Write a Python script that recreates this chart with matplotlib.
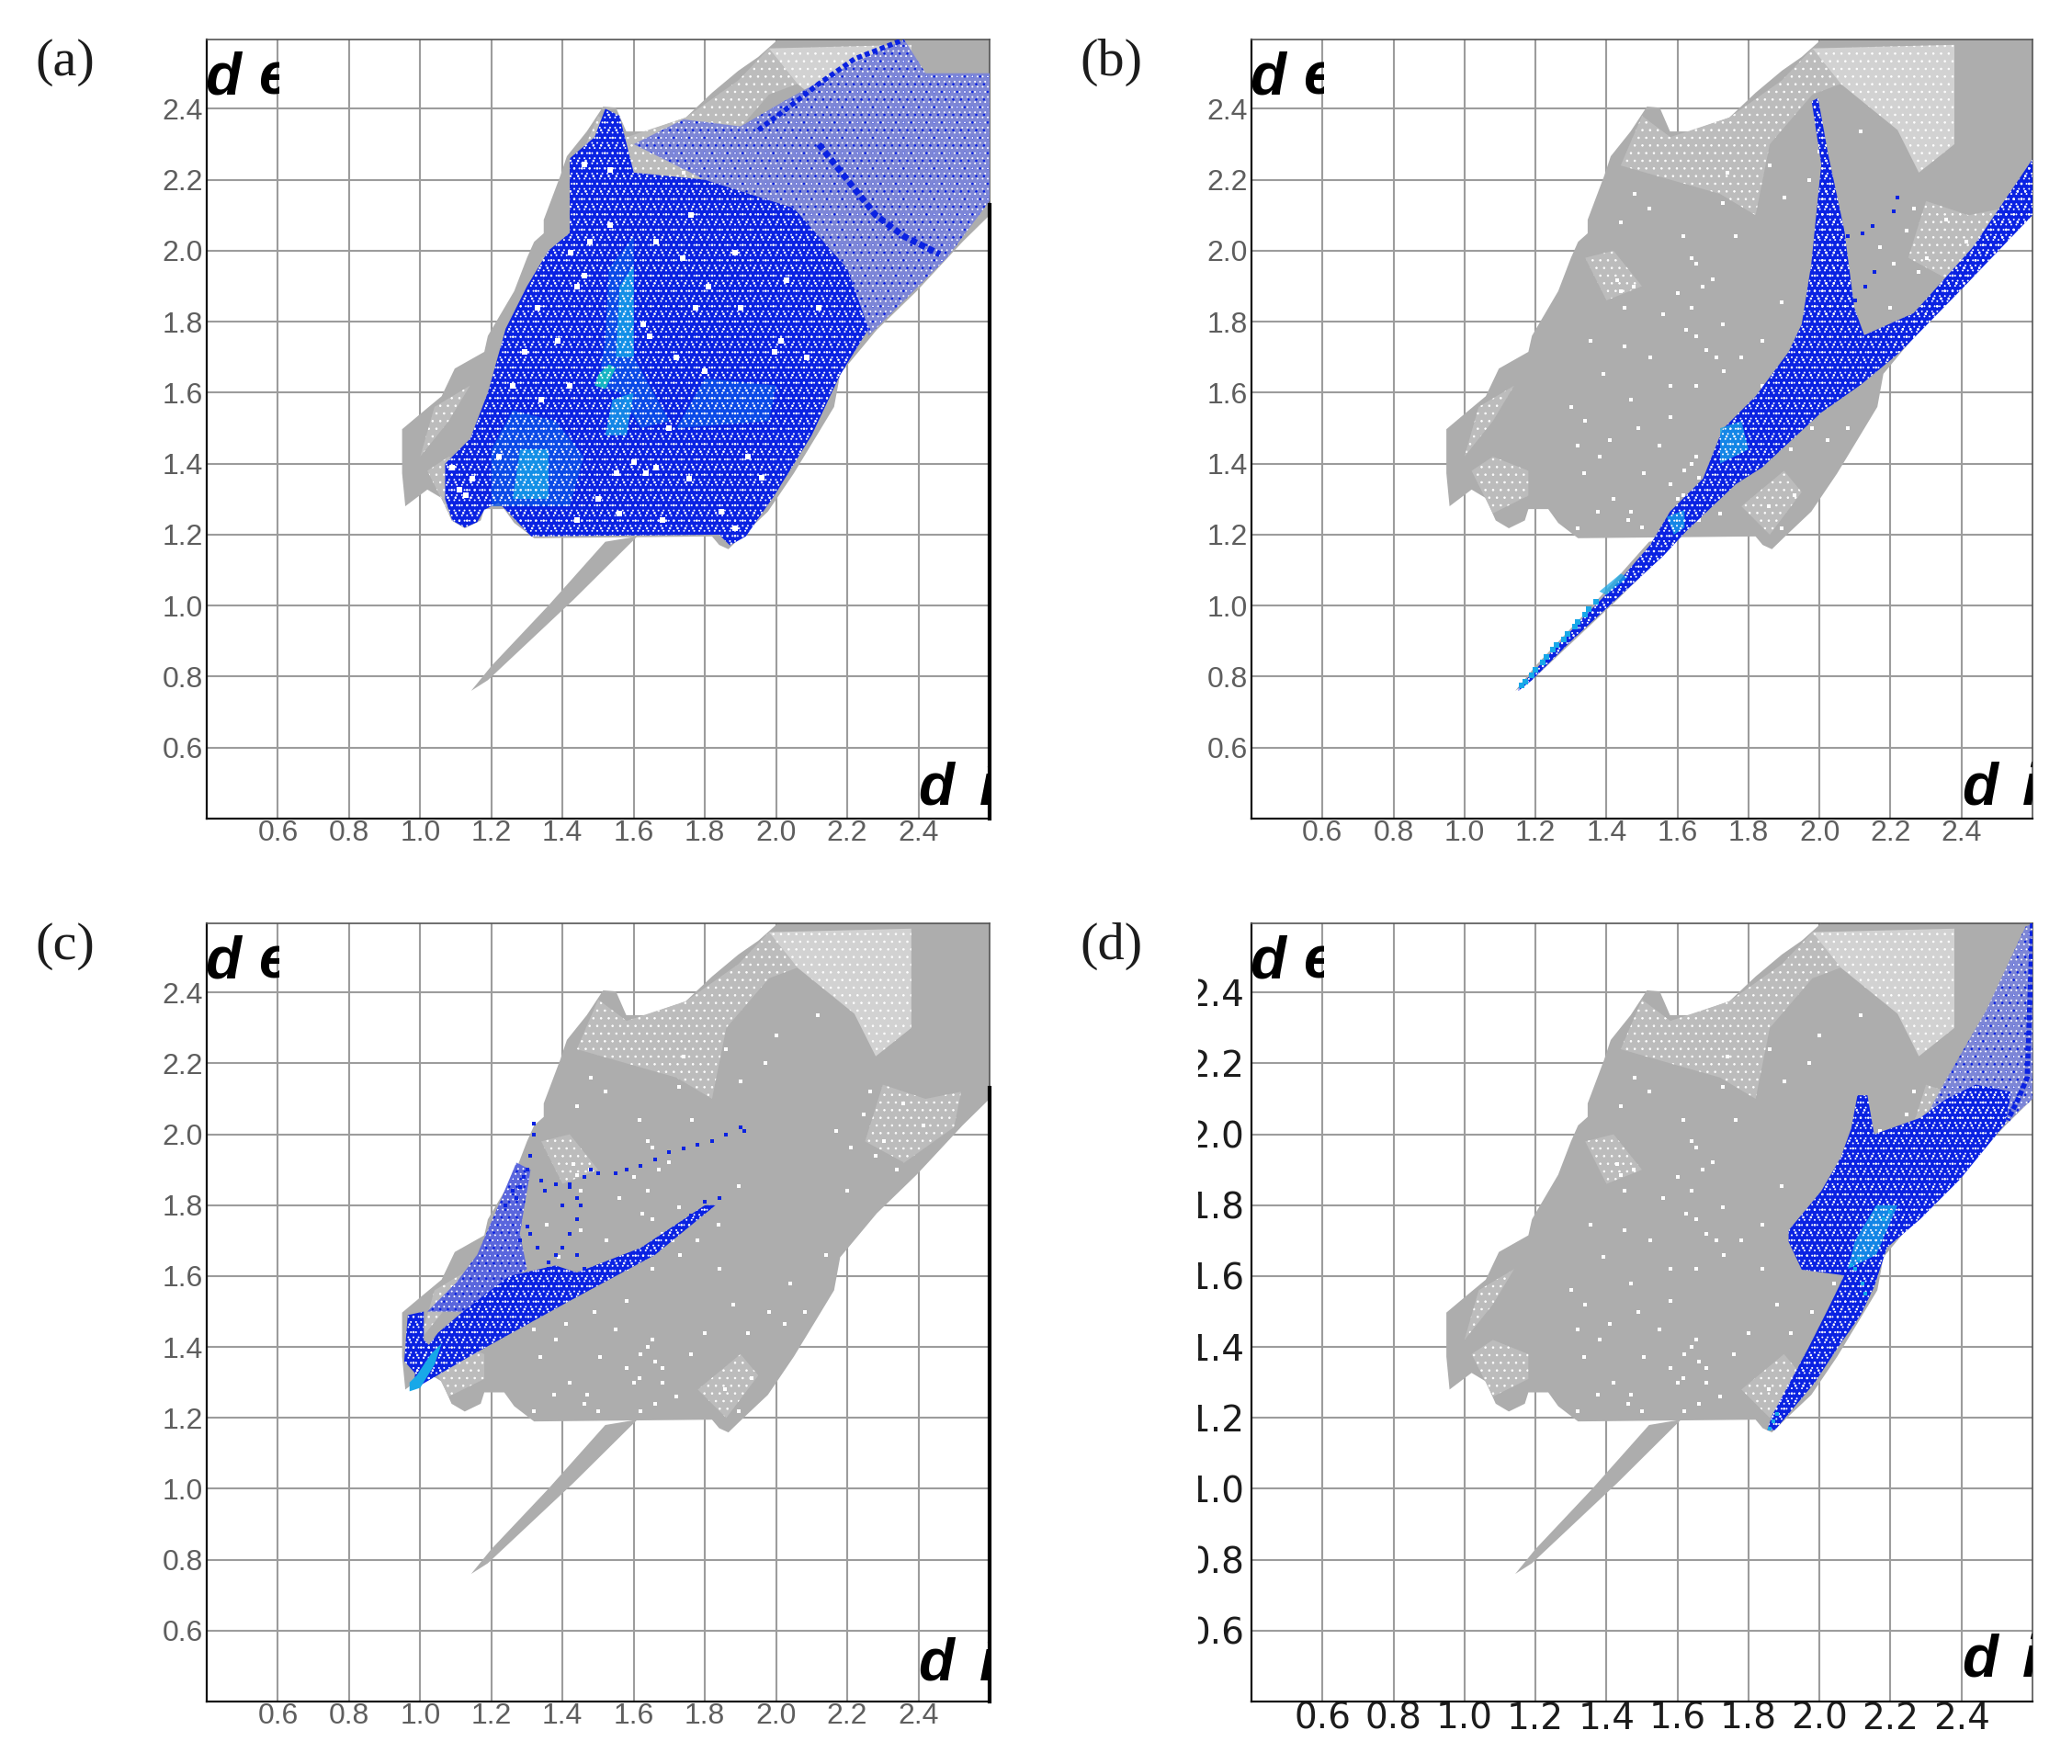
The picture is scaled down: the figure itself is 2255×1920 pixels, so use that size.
import matplotlib
matplotlib.use('Agg')
import matplotlib.pyplot as plt
from matplotlib.patches import Polygon, Rectangle
from matplotlib.transforms import Affine2D

plt.rcParams['hatch.linewidth'] = 0.6

TICKS = [0.6, 0.8, 1.0, 1.2, 1.4, 1.6, 1.8, 2.0, 2.2, 2.4]
TICK_LABELS = ['%.1f' % t for t in TICKS]

GRAY = '#adadad'
BLUE = '#0a22e2'
MID = '#0c58ea'
CYAN = '#18a8e8'
GREEN = '#1cd8b8'

# outline of the whole fingerprint (d_i, d_e)
gray_main = [(0.958, 1.28), (0.949, 1.373), (0.949, 1.497), (1.00, 1.54), (1.06, 1.59), (1.097, 1.668), (1.18, 1.715),
             (1.19, 1.76), (1.264, 1.886), (1.30, 1.98), (1.32, 2.025), (1.347, 2.049), (1.347, 2.087), (1.394, 2.212),
             (1.412, 2.266), (1.468, 2.336), (1.514, 2.406), (1.55, 2.403), (1.579, 2.336), (1.634, 2.336),
             (1.746, 2.375), (1.82, 2.445), (1.894, 2.507), (1.95, 2.546), (2.005, 2.595), (2.6, 2.595),
             (2.6, 2.10), (2.524, 2.025), (2.395, 1.886), (2.283, 1.777), (2.18, 1.653), (2.163, 1.56),
             (2.116, 1.482), (2.05, 1.373), (1.977, 1.265), (1.903, 1.195), (1.866, 1.159), (1.84, 1.171),
             (1.82, 1.195), (1.32, 1.19), (1.264, 1.233), (1.236, 1.272), (1.18, 1.272), (1.17, 1.24),
             (1.125, 1.218), (1.088, 1.24), (1.06, 1.303), (1.02, 1.327)]
gray_tail = [(1.143, 0.76), (1.2, 0.83), (1.36, 1.0), (1.52, 1.18), (1.61, 1.195), (1.43, 1.016), (1.19, 0.79)]

# thin (speckled) parts of the gray cloud
thin_regions = [
    [(1.746, 2.375), (1.894, 2.48), (1.98, 2.57), (2.06, 2.47), (1.98, 2.44), (1.86, 2.30), (1.82, 2.10), (1.72, 2.16),
     (1.58, 2.20), (1.44, 2.24), (1.50, 2.38), (1.58, 2.32)],
    [(1.08, 1.26), (1.18, 1.31), (1.18, 1.38), (1.08, 1.42), (1.02, 1.38)],
    [(1.00, 1.42), (1.08, 1.52), (1.14, 1.62), (1.04, 1.56)],
    [(1.86, 1.20), (1.95, 1.32), (1.90, 1.38), (1.78, 1.28)],
    [(2.30, 2.14), (2.42, 2.10), (2.52, 2.12), (2.50, 2.02), (2.36, 1.92), (2.25, 1.98)],
    [(1.50, 1.90), (1.42, 2.00), (1.34, 1.98), (1.40, 1.86)],
]
light_regions = [
    [(1.98, 2.57), (2.38, 2.58), (2.38, 2.30), (2.28, 2.22), (2.22, 2.34), (2.06, 2.47)],
]
white_x = [1.43, 1.44, 1.477, 1.45, 1.356, 1.45, 1.39, 1.523, 1.625, 1.653, 1.727, 1.838, 1.71, 1.653, 1.58, 1.58,
           1.32, 1.41, 1.505, 1.338, 1.653, 1.58, 1.468, 1.375, 1.32, 1.616, 1.894, 1.857, 1.93, 2.024, 2.08,
           1.653, 1.67, 1.764, 1.727, 1.616, 2.246, 2.302, 2.21, 2.17, 2.414, 2.47, 2.116, 2.265, 2.357, 1.894,
           1.64, 1.66, 1.62, 1.68, 1.47, 1.49, 1.55, 1.60, 1.68, 1.72, 1.76, 1.80, 1.62, 1.66, 1.50, 1.46, 1.42, 1.38,
           1.34, 1.30, 1.56, 1.60, 1.64, 1.68, 1.73, 1.78, 1.84, 1.88, 1.92, 1.98, 2.04, 2.10, 2.14, 2.20, 2.28, 2.34,
           1.52, 1.48, 1.44, 1.64, 1.70, 1.90, 1.97, 2.00, 1.86, 1.74]
white_y = [1.917, 1.886, 1.90, 1.84, 1.746, 1.73, 1.653, 1.70, 1.777, 1.76, 1.793, 1.746, 1.70, 1.62, 1.62, 1.53,
           1.45, 1.466, 1.373, 1.373, 1.42, 1.342, 1.265, 1.265, 1.218, 1.311, 1.218, 1.28, 1.311, 1.466, 1.5,
           1.963, 1.9, 2.04, 2.134, 2.04, 2.057, 1.98, 1.963, 2.01, 2.025, 1.948, 2.336, 2.12, 2.087, 1.855,
           1.40, 1.36, 1.38, 1.34, 1.58, 1.50, 1.45, 1.30, 1.30, 1.26, 1.38, 1.44, 1.22, 1.24, 1.22, 1.24, 1.30, 1.42,
           1.52, 1.56, 1.82, 1.88, 1.84, 1.72, 1.66, 1.70, 1.62, 1.52, 1.44, 1.50, 1.58, 1.42, 1.66, 1.84, 1.94, 1.90,
           2.12, 2.16, 2.08, 1.98, 1.92, 2.15, 2.20, 2.28, 2.24, 2.22]

# panel (a): dense body, sparser upper right
a_dense = [(1.312, 1.195), (1.25, 1.26), (1.22, 1.29), (1.18, 1.27), (1.16, 1.235), (1.125, 1.22), (1.09, 1.24),
           (1.07, 1.30), (1.07, 1.40), (1.14, 1.47), (1.19, 1.60), (1.24, 1.78), (1.30, 1.90), (1.36, 2.00),
           (1.42, 2.05), (1.42, 2.26), (1.49, 2.32), (1.52, 2.40), (1.56, 2.38), (1.60, 2.22), (1.80, 2.20),
           (2.05, 2.12), (2.20, 1.95), (2.26, 1.78), (2.18, 1.65), (2.10, 1.48), (1.995, 1.31), (1.915, 1.195),
           (1.87, 1.17), (1.84, 1.20)]
a_sparse = [(1.60, 2.30), (1.74, 2.37), (1.90, 2.35), (2.02, 2.42), (2.20, 2.52), (2.36, 2.595), (2.42, 2.50),
            (2.6, 2.50), (2.6, 2.14), (2.48, 1.98), (2.38, 1.88), (2.26, 1.76), (2.20, 1.95), (2.05, 2.12), (1.80, 2.20)]
a_mid = [[(1.50, 1.62), (1.56, 1.60), (1.62, 1.50), (1.70, 1.52), (1.60, 1.70), (1.60, 2.04), (1.53, 1.95), (1.52, 1.75)],
         [(1.20, 1.28), (1.42, 1.28), (1.46, 1.42), (1.38, 1.52), (1.26, 1.55), (1.20, 1.44)],
         [(1.72, 1.50), (1.98, 1.52), (2.00, 1.62), (1.80, 1.64)]]
a_cyan = [[(1.55, 1.70), (1.60, 1.70), (1.60, 1.96), (1.56, 1.90)],
          [(1.26, 1.30), (1.36, 1.30), (1.36, 1.44), (1.28, 1.44)],
          [(1.52, 1.48), (1.58, 1.48), (1.60, 1.60), (1.54, 1.58)]]
a_hot = [[(1.49, 1.62), (1.52, 1.61), (1.55, 1.67), (1.53, 1.68), (1.50, 1.65)]]
a_streak_x = [1.95, 2.03, 2.12, 2.22, 2.36]
a_streak_y = [2.34, 2.40, 2.47, 2.54, 2.595]
a_streak2_x = [2.12, 2.20, 2.28, 2.36, 2.46]
a_streak2_y = [2.30, 2.20, 2.10, 2.04, 1.99]
a_white_x = [1.626, 1.644, 1.44, 1.46, 1.60, 1.635, 1.663, 1.755, 1.552, 1.847, 1.884, 1.81, 1.773, 2.013, 1.995, 1.386,
             1.294, 1.33, 1.423, 1.534, 1.534, 1.46, 1.478, 1.884, 2.03, 2.087, 1.70, 1.22, 1.11, 1.128, 1.146, 1.09,
             1.737, 1.663, 1.50, 1.42, 1.72, 1.80, 1.92, 1.96, 1.26, 1.34, 1.44, 1.56, 1.68, 1.90, 1.76, 2.12]
a_white_y = [1.793, 1.76, 1.90, 1.93, 1.404, 1.373, 1.389, 1.358, 1.373, 1.265, 1.218, 1.90, 1.84, 1.746, 1.715, 1.746,
             1.715, 1.84, 1.994, 2.072, 2.227, 2.243, 2.026, 1.994, 1.917, 1.70, 1.50, 1.42, 1.327, 1.311, 1.358, 1.39,
             1.98, 2.026, 1.30, 1.62, 1.70, 1.66, 1.42, 1.36, 1.62, 1.58, 1.24, 1.26, 1.24, 1.84, 2.10, 1.84]

# panel (b): the two wings and the spike
b_body = [(1.152, 0.768), (1.338, 0.97), (1.43, 1.063), (1.523, 1.171), (1.579, 1.265), (1.672, 1.358), (1.727, 1.497),
          (1.82, 1.59), (1.913, 1.715), (1.95, 1.793), (1.977, 1.963), (2.005, 2.243), (1.978, 2.421), (1.996, 2.43),
          (2.024, 2.274), (2.07, 2.057), (2.098, 1.84), (2.126, 1.762), (2.265, 1.824), (2.432, 2.01), (2.6, 2.258),
          (2.6, 2.10), (2.395, 1.886), (2.228, 1.715), (2.116, 1.622), (2.005, 1.544), (1.838, 1.389), (1.764, 1.342),
          (1.625, 1.21), (1.56, 1.14), (1.43, 1.02), (1.30, 0.90), (1.19, 0.79), (1.152, 0.76)]
b_mid = [[(1.59, 1.20), (1.62, 1.22), (1.62, 1.27), (1.57, 1.25)],
         [(1.72, 1.40), (1.80, 1.44), (1.78, 1.52), (1.72, 1.50)],
         [(1.40, 1.03), (1.46, 1.08), (1.44, 1.09), (1.38, 1.04)]]
b_wing = [(2.18, 1.72), (2.265, 1.824), (2.432, 2.01), (2.6, 2.258), (2.6, 2.10), (2.395, 1.886), (2.228, 1.715)]
b_spike = [(1.98, 1.80), (2.005, 2.243), (1.978, 2.421), (1.996, 2.43), (2.024, 2.274), (2.07, 2.057), (2.098, 1.84)]
b_hot_x = [1.16, 1.19, 1.22, 1.25, 1.28, 1.31, 1.34, 1.37, 1.17, 1.20, 1.23, 1.26, 1.29, 1.32, 1.35]
b_hot_y = [0.775, 0.805, 0.84, 0.875, 0.905, 0.94, 0.975, 1.01, 0.785, 0.82, 0.855, 0.89, 0.92, 0.955, 0.99]
b_stray_x = [2.22, 2.21, 2.15, 2.12, 2.08, 2.155, 2.13, 2.10]
b_stray_y = [2.15, 2.11, 2.07, 2.05, 2.04, 1.94, 1.90, 1.86]

# panel (c): cluster at the lower left and the thin branches
c_band = [(0.98, 1.28), (1.15, 1.38), (1.42, 1.53), (1.66, 1.66), (1.83, 1.80), (1.80, 1.80), (1.62, 1.68), (1.44, 1.61),
          (1.38, 1.63), (1.25, 1.60), (1.12, 1.50), (1.05, 1.44), (0.99, 1.36)]
c_ring = [(0.955, 1.36), (0.965, 1.49), (1.01, 1.50), (1.01, 1.42), (1.05, 1.38), (1.00, 1.31)]
c_fan = [(1.02, 1.50), (1.10, 1.58), (1.16, 1.66), (1.22, 1.80), (1.27, 1.92), (1.31, 1.90), (1.28, 1.72), (1.30, 1.62), (1.12, 1.50)]
c_dots_x = [1.28, 1.30, 1.31, 1.32, 1.32, 1.29, 1.27, 1.24, 1.26, 1.42, 1.44, 1.46, 1.48, 1.50, 1.55, 1.58, 1.62, 1.66, 1.70,
            1.74, 1.78, 1.82, 1.86, 1.90, 1.91, 1.45, 1.44, 1.42, 1.40, 1.38, 1.36, 1.42, 1.40, 1.34, 1.35, 1.38, 1.28, 1.30,
            1.36, 1.39, 1.33, 1.31, 1.44, 1.46, 1.42, 1.84, 1.80, 1.76]
c_dots_y = [1.85, 1.90, 1.94, 2.00, 2.03, 1.88, 1.82, 1.80, 1.84, 1.86, 1.82, 1.88, 1.90, 1.89, 1.89, 1.90, 1.91, 1.93, 1.95,
            1.96, 1.97, 1.98, 2.00, 2.02, 2.01, 1.80, 1.76, 1.72, 1.68, 1.66, 1.62, 1.85, 1.80, 1.87, 1.84, 1.86, 1.70, 1.74,
            1.64, 1.60, 1.68, 1.72, 1.66, 1.62, 1.58, 1.82, 1.81, 1.77]
c_hot = [[(0.97, 1.275), (1.0, 1.285), (1.04, 1.35), (1.06, 1.41), (1.03, 1.38), (0.99, 1.32), (0.97, 1.30)]]

# panel (d): lower leg, central wing, right hand band
d_body = [(1.853, 1.166), (1.866, 1.206), (1.968, 1.396), (2.024, 1.507), (2.07, 1.602), (1.95, 1.618), (1.913, 1.697),
          (1.913, 1.729), (2.005, 1.84), (2.06, 1.935), (2.089, 2.015), (2.107, 2.11), (2.135, 2.11), (2.154, 2.0),
          (2.283, 2.046), (2.358, 2.10), (2.44, 2.14), (2.54, 2.12), (2.524, 2.03), (2.395, 1.872),
          (2.283, 1.76), (2.19, 1.68), (2.154, 1.57), (2.116, 1.49), (2.05, 1.396), (1.987, 1.30), (1.875, 1.166)]
d_sparse = [(2.30, 2.05), (2.358, 2.157), (2.469, 2.348), (2.58, 2.585), (2.6, 2.595), (2.6, 2.10), (2.524, 2.03), (2.42, 2.02)]
d_edge_x = [2.6, 2.595, 2.59, 2.585, 2.56, 2.53]
d_edge_y = [2.595, 2.45, 2.30, 2.16, 2.10, 2.04]
d_mid = [[(2.08, 1.62), (2.16, 1.66), (2.22, 1.80), (2.16, 1.80), (2.10, 1.70)]]
d_hot_x = [1.86, 1.87, 1.88, 2.10, 2.11, 2.12, 2.13, 2.18, 2.20, 2.09]
d_hot_y = [1.17, 1.19, 1.21, 1.62, 1.65, 1.58, 1.55, 1.76, 1.78, 1.63]


def add_cloud(ax):
    ax.add_patch(Polygon(gray_main, fc=GRAY, ec='none', zorder=2))
    ax.add_patch(Polygon(gray_tail, fc=GRAY, ec='none', zorder=2))
    for region in thin_regions:
        ax.add_patch(Polygon(region, fc='#bcbcbc', ec='none', zorder=3))
        ax.add_patch(Polygon(region, fc='none', ec='white', lw=0, hatch='..', zorder=3))
    for region in light_regions:
        ax.add_patch(Polygon(region, fc='#d2d2d2', ec='none', zorder=3))
        ax.add_patch(Polygon(region, fc='none', ec='white', lw=0, hatch='..', zorder=3))
    ax.scatter(white_x, white_y, s=9, c='white', marker='s', linewidths=0, zorder=3)


def add_blue(ax, outline, zones=(), hatch='..'):
    ax.add_patch(Polygon(outline, fc=BLUE, ec='none', zorder=4))
    for pts, color in zones:
        ax.add_patch(Polygon(pts, fc=color, ec='none', alpha=0.75, zorder=4))
    ax.add_patch(Polygon(outline, fc='none', ec='white', lw=0, hatch=hatch, zorder=5))
    ax.add_patch(Polygon(outline, fc='none', ec='white', lw=0, hatch='...', zorder=5))


def add_thin_blue(ax, outline, fc='#7d86d6'):
    # speckle of blue over white and gray
    ax.add_patch(Polygon(outline, fc=fc, ec='none', zorder=4))
    ax.add_patch(Polygon(outline, fc='none', ec=BLUE, lw=0, hatch='..', zorder=5))
    ax.add_patch(Polygon(outline, fc='none', ec='white', lw=0, hatch='...', zorder=5))


def add_dots(ax, x, y, color, size=9):
    ax.scatter(x, y, s=size, c=color, marker='s', linewidths=0, zorder=6)


def setup(fig, rect, label, dark=False, thick_right=True, top_y=2.44, bottom_y=0.44):
    W, H = 2255.0, 1920.0
    x0, y0, x1, y1 = rect
    ax = fig.add_axes([x0 / W, 1 - y1 / H, (x1 - x0) / W, (y1 - y0) / H])
    ax.set_xlim(0.4, 2.6)
    ax.set_ylim(0.4, 2.595)
    ax.set_xticks(TICKS)
    ax.set_yticks(TICKS)
    ax.set_xticklabels(TICK_LABELS)
    ax.set_yticklabels(TICK_LABELS)
    ax.grid(True, color='#9c9c9c', lw=1.5, zorder=1)
    ax.set_axisbelow(True)
    if dark:
        ax.tick_params(length=0, labelsize=28, labelcolor='#1c1c1c')
        ax.tick_params(axis='y', pad=5.5)
        ax.tick_params(axis='x', pad=0)
        # the labels of this panel are cut off on the left in the source
        px = Affine2D().scale(1 / W, 1 / H) + fig.transFigure
        for t in ax.get_yticklabels():
            t.set_clip_path(Rectangle((x0 - 58, 0), 70, H, transform=px))
            t.set_clip_on(True)
    else:
        ax.tick_params(length=0, labelsize=23, labelcolor='#5e5e5e')
        ax.tick_params(axis='y', pad=3)
        ax.tick_params(axis='x', pad=1)
        for t in ax.get_xticklabels() + ax.get_yticklabels():
            t.set_fontfamily('Liberation Sans')
    for side in ['left', 'bottom']:
        ax.spines[side].set_linewidth(1.6)
        ax.spines[side].set_color('#111111')
    ax.spines['top'].set_linewidth(1.2)
    ax.spines['top'].set_color('#555555')
    ax.spines['right'].set_linewidth(1.2)
    ax.spines['right'].set_color('#555555')

    # axis names sit inside the plot and get cropped by it
    style = dict(family='Liberation Sans', fontweight='bold', fontstyle='italic', fontsize=46, color='black', zorder=8, clip_on=True)
    ax.text(0.395, top_y, 'd', **style)
    e = ax.text(0.545, top_y, 'e', **style)
    e.set_clip_path(Rectangle((0.4, 0.4), 0.205, 2.2, transform=ax.transData))
    ax.text(2.40, bottom_y, 'd', **style)
    ax.text(2.572, bottom_y, 'i', **style)
    if thick_right:
        ax.plot([2.6, 2.6], [0.4, 2.13], color='black', lw=3, clip_on=False, zorder=9)
    fig.text((x0 - 187) / W, 1 - (y0 + 25) / H, label, family='Liberation Serif', fontsize=42,
             color='#1c1c1c', va='center')
    add_cloud(ax)
    return ax


fig = plt.figure(figsize=(22.55, 19.2), dpi=100)

ax = setup(fig, (225, 43, 1077, 891), '(a)')
add_thin_blue(ax, a_sparse)
zones = [(p, MID) for p in a_mid] + [(p, CYAN) for p in a_cyan] + [(p, GREEN) for p in a_hot]
add_blue(ax, a_dense, zones)
ax.plot(a_streak_x, a_streak_y, color=BLUE, lw=4, ls=(0, (1, 0.6)), zorder=6)
ax.plot(a_streak2_x, a_streak2_y, color=BLUE, lw=5, ls=(0, (1, 0.5)), zorder=6)
add_dots(ax, a_white_x, a_white_y, 'white', 14)

ax = setup(fig, (1362, 43, 2212, 891), '(b)', thick_right=False)
add_blue(ax, b_body, [(p, CYAN) for p in b_mid])
ax.add_patch(Polygon(b_wing, fc='none', ec='white', lw=0, hatch='..', zorder=5))
ax.add_patch(Polygon(b_spike, fc='none', ec='white', lw=0, hatch='..', zorder=5))
add_dots(ax, b_hot_x, b_hot_y, CYAN, 14)
add_dots(ax, b_stray_x, b_stray_y, BLUE, 9)

ax = setup(fig, (225, 1005, 1077, 1852), '(c)', bottom_y=0.46)
add_thin_blue(ax, c_fan, '#5a66dc')
add_blue(ax, c_band)
add_blue(ax, c_ring)
add_dots(ax, c_dots_x, c_dots_y, BLUE, 10)
for pts in c_hot:
    ax.add_patch(Polygon(pts, fc=CYAN, ec='none', zorder=6))

ax = setup(fig, (1362, 1005, 2212, 1852), '(d)', dark=True, thick_right=False, bottom_y=0.47)
add_thin_blue(ax, d_sparse)
add_blue(ax, d_body, [(p, CYAN) for p in d_mid])
ax.plot(d_edge_x, d_edge_y, color=BLUE, lw=4, ls=(0, (1, 0.5)), zorder=6)
add_dots(ax, d_hot_x, d_hot_y, CYAN, 12)

fig.savefig('out.png', dpi=100)
